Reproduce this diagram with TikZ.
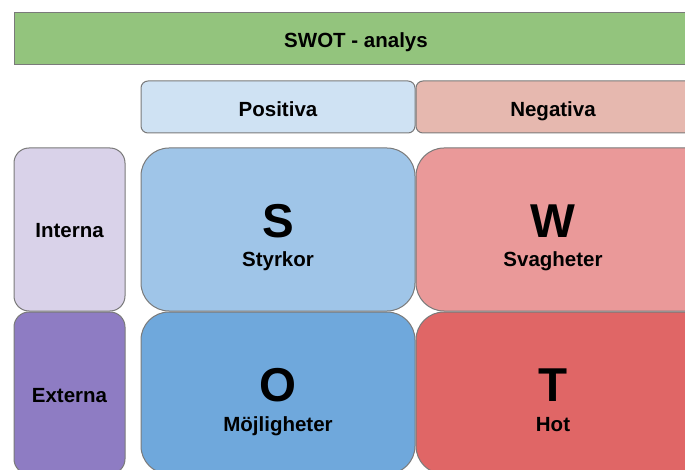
\documentclass[tikz,border=0pt]{standalone}
\usepackage{fontspec}
\setmainfont{Liberation Sans}
\definecolor{cgreen}{HTML}{93C47D}
\definecolor{cposhead}{HTML}{CFE2F3}
\definecolor{cneghead}{HTML}{E6B8AF}
\definecolor{cint}{HTML}{D9D2E9}
\definecolor{cext}{HTML}{8E7CC3}
\definecolor{cS}{HTML}{9FC5E8}
\definecolor{cW}{HTML}{EA9999}
\definecolor{cO}{HTML}{6FA8DC}
\definecolor{cT}{HTML}{E06666}
\definecolor{cborder}{HTML}{7A7A7A}
\begin{document}
\begin{tikzpicture}[x=1pt,y=-1pt,
  box/.style={draw=cborder, line width=1pt, inner sep=0pt, outer sep=0pt, anchor=north west},
  lbl/.style={font=\fontsize{20.5}{24}\selectfont\bfseries, anchor=base, inner sep=0pt},
  big/.style={font=\fontsize{47.5}{55}\selectfont\bfseries, anchor=base, inner sep=0pt}]
\useasboundingbox (0,0) rectangle (685,470);
\clip (0,0) rectangle (685,470);
\fill[white] (0,0) rectangle (685,470);
% title
\node[box, fill=cgreen, minimum width=720pt, minimum height=52pt] (title) at (14,13) {};
\node[lbl] (titletxt) at (356,47.5) {SWOT - analys};
% column heads
\node[box, fill=cposhead, rounded corners=7pt, minimum width=274pt, minimum height=52pt] (pos) at (141,81) {};
\node[box, fill=cneghead, rounded corners=7pt, minimum width=320pt, minimum height=52pt] (neg) at (416,81) {};
\node[lbl] (postxt) at (278,116.5) {Positiva};
\node[lbl] (negtxt) at (553,116.5) {Negativa};
% row heads
\node[box, fill=cint, rounded corners=15pt, minimum width=111pt, minimum height=163pt] (int) at (14,148) {};
\node[box, fill=cext, rounded corners=15pt, minimum width=111pt, minimum height=162pt] (ext) at (14,312) {};
\node[lbl] (inttxt) at (69.5,237.5) {Interna};
\node[lbl] (exttxt) at (69.5,402.5) {Externa};
% quadrants
\node[box, fill=cS, rounded corners=28pt, minimum width=274pt, minimum height=163pt] (S) at (141,148) {};
\node[box, fill=cW, rounded corners=28pt, minimum width=320pt, minimum height=163pt] (W) at (416,148) {};
\node[box, fill=cO, rounded corners=28pt, minimum width=274pt, minimum height=162pt] (O) at (141,312) {};
\node[box, fill=cT, rounded corners=28pt, minimum width=320pt, minimum height=162pt] (T) at (416,312) {};
\node[big] (Sl) at (278,237.5) {S};
\node[lbl] (Sn) at (278,266.5) {Styrkor};
\node[big] (Wl) at (553,237.5) {W};
\node[lbl] (Wn) at (553,266.5) {Svagheter};
\node[big] (Ol) at (278,401) {O};
\node[lbl] (On) at (278,431) {Möjligheter};
\node[big] (Tl) at (553,401) {T};
\node[lbl] (Tn) at (553,431) {Hot};
\end{tikzpicture}
\end{document}
